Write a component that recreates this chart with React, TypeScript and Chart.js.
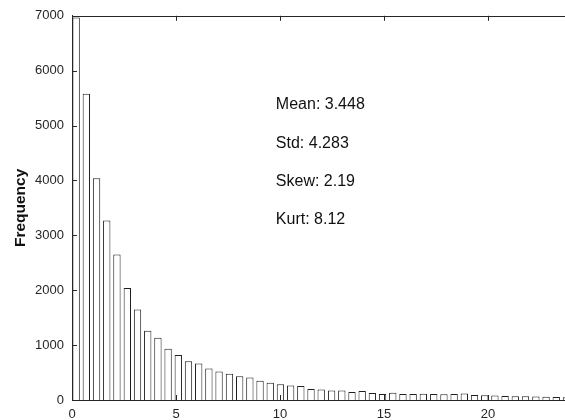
import React, { useEffect, useRef } from 'react';
import { Chart, registerables } from 'chart.js';

Chart.register(...registerables);

// Histogram bin centers (x) and counts (y)
const binCenters = [
  0.2, 0.69, 1.18, 1.67, 2.16, 2.66, 3.15, 3.64, 4.13, 4.62,
  5.11, 5.6, 6.09, 6.58, 7.07, 7.57, 8.06, 8.55, 9.04, 9.53,
  10.02, 10.51, 11.0, 11.49, 11.98, 12.48, 12.97, 13.46, 13.95, 14.44,
  14.93, 15.42, 15.91, 16.4, 16.89, 17.39, 17.88, 18.37, 18.86, 19.35,
  19.84, 20.33, 20.82, 21.31, 21.8, 22.3, 22.79, 23.28, 23.77,
];
const frequencies = [
  6970, 5580, 4040, 3270, 2650, 2040, 1650, 1260, 1135, 935,
  820, 705, 663, 573, 519, 476, 434, 410, 350, 314,
  289, 265, 253, 199, 193, 175, 175, 145, 163, 127,
  110, 130, 110, 110, 115, 110, 105, 110, 120, 90,
  85, 80, 75, 70, 70, 65, 60, 55, 50,
];
const xTickValues = [0, 5, 10, 15, 20];
const yTickValues = [0, 1000, 2000, 3000, 4000, 5000, 6000, 7000];
const statLabels = ['Mean: 3.448', 'Std: 4.283', 'Skew: 2.19', 'Kurt: 8.12'];
const statYValues = [5380, 4680, 3980, 3290];
const statXValue = 9.8;
const yAxisTitle = 'Frequency';

const FONT = '"Liberation Sans", Arial, Helvetica, sans-serif';
const INK = '#262626';

export default function App() {
  const ref = useRef<HTMLCanvasElement | null>(null);

  useEffect(() => {
    const canvas = ref.current;
    if (!canvas) return;

    const decor = {
      id: 'decor',
      afterDraw(chart: any) {
        const ctx = chart.ctx;
        const a = chart.chartArea;
        const xs = chart.scales.x;
        const ys = chart.scales.y;
        ctx.save();
        ctx.strokeStyle = INK;
        ctx.lineWidth = 1;
        // top border
        ctx.beginPath();
        ctx.moveTo(a.left, Math.round(a.top) + 0.5);
        ctx.lineTo(a.right, Math.round(a.top) + 0.5);
        ctx.stroke();
        // inward ticks
        const tl = 5;
        ctx.beginPath();
        xTickValues.forEach((v) => {
          const px = Math.round(xs.getPixelForValue(v)) + 0.5;
          ctx.moveTo(px, a.bottom);
          ctx.lineTo(px, a.bottom - tl);
          ctx.moveTo(px, a.top);
          ctx.lineTo(px, a.top + tl);
        });
        yTickValues.forEach((v) => {
          const py = Math.round(ys.getPixelForValue(v)) + 0.5;
          ctx.moveTo(a.left, py);
          ctx.lineTo(a.left + tl, py);
        });
        ctx.stroke();
        // statistics text
        ctx.fillStyle = '#111111';
        ctx.font = `16px ${FONT}`;
        ctx.textAlign = 'left';
        ctx.textBaseline = 'middle';
        statLabels.forEach((t, i) => {
          ctx.fillText(t, xs.getPixelForValue(statXValue), ys.getPixelForValue(statYValues[i]));
        });
        // y axis title
        ctx.fillStyle = '#111111';
        ctx.font = `bold 15.5px ${FONT}`;
        ctx.translate(21, (a.top + a.bottom) / 2);
        ctx.rotate(-Math.PI / 2);
        ctx.textAlign = 'center';
        ctx.textBaseline = 'middle';
        ctx.fillText(yAxisTitle, 0, 0);
        ctx.restore();
      },
    };

    const chart = new Chart(canvas, {
      type: 'bar',
      data: {
        datasets: [
          {
            data: binCenters.map((x, i) => ({ x, y: frequencies[i] })),
            backgroundColor: '#ffffff',
            borderColor: '#1f1f1f',
            borderWidth: 1,
            borderSkipped: 'bottom',
            barPercentage: 0.72,
            categoryPercentage: 1,
          },
        ],
      },
      options: {
        responsive: false,
        animation: false,
        devicePixelRatio: 1,
        layout: { padding: { top: 13, left: 0, right: 0, bottom: 0 } },
        plugins: {
          legend: { display: false },
          tooltip: { enabled: false },
        },
        scales: {
          x: {
            type: 'linear',
            min: 0,
            max: 23.7,
            offset: false,
            grid: { display: false, drawTicks: false, offset: false },
            border: { display: true, color: INK, width: 1 },
            afterBuildTicks: (s: any) => {
              s.ticks = xTickValues.map((v) => ({ value: v }));
            },
            afterFit: (s: any) => {
              s.height = 20;
            },
            ticks: {
              padding: 7,
              color: INK,
              font: { family: FONT, size: 13 },
              maxRotation: 0,
              autoSkip: false,
              callback: (v: any) => String(v),
            },
          },
          y: {
            type: 'linear',
            min: 0,
            max: 7000,
            grid: { display: false, drawTicks: false },
            border: { display: true, color: INK, width: 1 },
            afterBuildTicks: (s: any) => {
              s.ticks = yTickValues.map((v) => ({ value: v }));
            },
            afterFit: (s: any) => {
              s.width = 72;
            },
            ticks: {
              padding: 8,
              color: INK,
              font: { family: FONT, size: 13 },
              callback: (v: any) => String(v),
            },
          },
        },
      },
      plugins: [decor],
    });

    return () => chart.destroy();
  }, []);

  return (
    <div style={{ position: 'absolute', left: 0, top: 0, width: 565, height: 420, background: '#fff' }}>
      <canvas ref={ref} width={565} height={420} style={{ display: 'block' }} />
    </div>
  );
}
